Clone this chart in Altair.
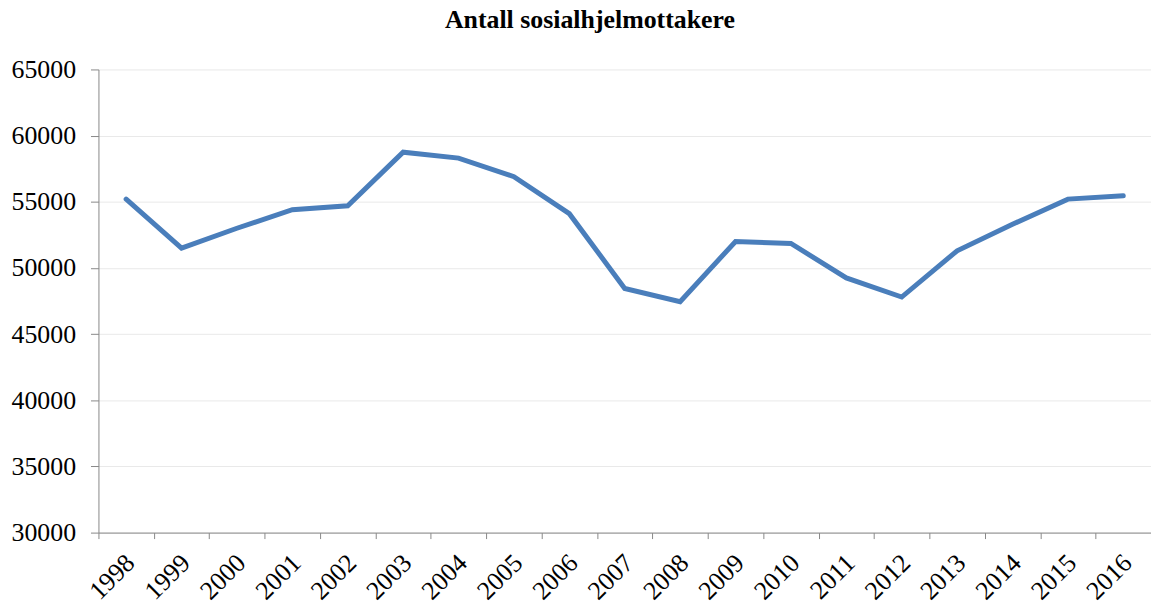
import altair as alt
import pandas as pd

years = [str(y) for y in range(1998, 2017)]
values = [55200, 51500, 53000, 54400, 54700, 58750, 58300, 56900, 54100,
          48450, 47450, 52000, 51850, 49250, 47800, 51300, 53300, 55200, 55450]

df = pd.DataFrame({"year": years, "value": values})

chart = alt.Chart(df).mark_line(color="#4A7EBB", strokeWidth=5, strokeCap="round", strokeJoin="miter").encode(
    x=alt.X("year:O", scale=alt.Scale(type="band", paddingInner=0, paddingOuter=0),
            axis=alt.Axis(title=None, labelAngle=-45, labelAlign="right", labelBaseline="middle",
                          tickBand="extent", grid=False, tickSize=6, tickColor="#888888",
                          domainColor="#888888", labelFont="Liberation Serif", labelFontSize=26,
                          labelColor="black", labelPadding=20, labelOffset=4)),
    y=alt.Y("value:Q", scale=alt.Scale(domain=[30000, 65000], nice=False, zero=False),
            axis=alt.Axis(title=None, values=list(range(30000, 65001, 5000)), format="d", tickSize=8,
                          tickColor="#888888", domainColor="#888888", gridColor="#e9e9e9",
                          labelFont="Liberation Serif", labelFontSize=26, labelColor="black",
                          labelPadding=15)),
).properties(
    width=1059, height=466,
    title=alt.TitleParams("Antall sosialhjelmottakere", font="Liberation Serif", fontSize=26,
                          fontWeight="bold", color="black", anchor="middle", dx=-35, offset=24),
    autosize=alt.AutoSizeParams(type="none"),
    padding={"left": 91, "top": 60, "right": 0, "bottom": 70},
).configure_view(stroke=None)

chart.save("out.html", embed_options={"renderer": "svg", "actions": False})
